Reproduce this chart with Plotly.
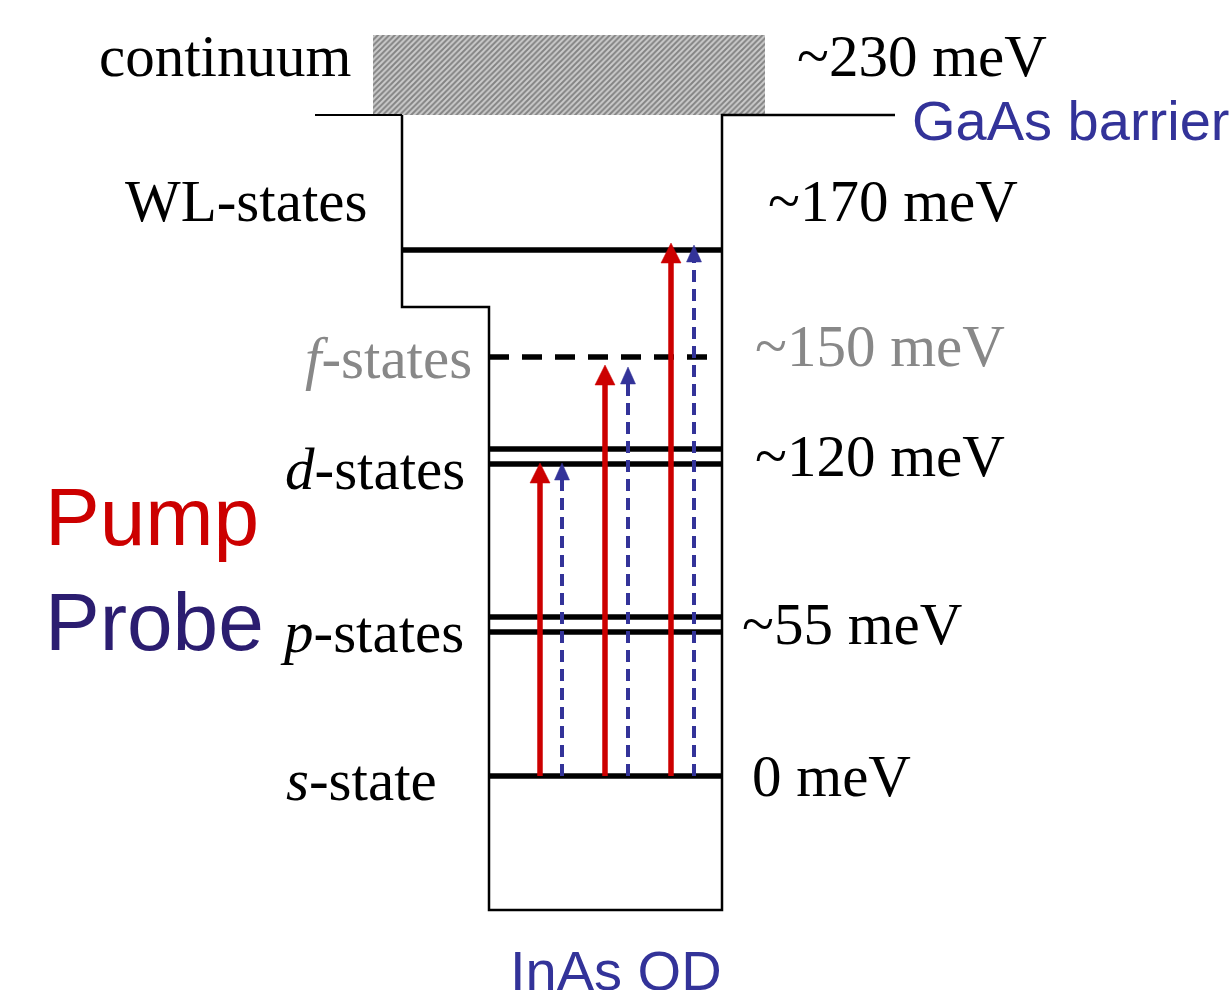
import plotly.graph_objects as go

# ---------------- data (schematic values) ----------------
state_labels = ["continuum", "WL-states", "<i>f</i>-states", "<i>d</i>-states",
                "<i>p</i>-states", "<i>s</i>-state"]
energy_labels = ["~230 meV", "~170 meV", "~150 meV", "~120 meV", "~55 meV", "0 meV"]
label_colors = ["black", "black", "#888888", "black", "black", "black"]
legend_labels = ["Pump", "Probe"]
legend_colors = ["#cc0000", "#2b1d70"]
barrier_label = "GaAs barrier"
dot_label = "InAs QD"

# ---------------- layout constants (diagram coordinates) ----------------
W, H = 1232, 990
serif = "Liberation Serif, Times New Roman, serif"
sans = "Liberation Sans, Arial, sans-serif"

# level lines: (x0, x1, y, dashed)
levels = [
    (402, 722, 250, False),   # WL
    (489, 712, 357, True),    # f
    (489, 722, 449, False),   # d
    (489, 722, 464, False),
    (489, 722, 617, False),   # p
    (489, 722, 632, False),
    (489, 722, 776, False),   # s
]
base_y = 776
pump_x = [540, 605, 671]
pump_tip = [463, 365, 243]
probe_x = [562, 628, 694]
probe_tip = [463, 367, 245]

state_pos = [(353, 56), (369, 201), (474, 358), (467, 469), (466, 632), (439, 780)]
energy_pos = [(795, 56), (766, 201), (753, 346), (753, 456), (740, 624), (750, 776)]

fig = go.Figure()

# continuum (hatched box)
bx0, bx1, by0, by1 = 373, 765, 35, 115
fig.add_trace(go.Scatter(
    x=[bx0, bx1, bx1, bx0, bx0], y=[by0, by0, by1, by1, by0],
    mode="lines", line=dict(width=0, color="rgba(0,0,0,0)"),
    fill="toself", fillcolor="#c4c4c4",
    fillpattern=dict(shape="/", size=4, solidity=0.5, fgcolor="#3a3a3a", bgcolor="#cccccc"),
    hoverinfo="skip"))

# barrier + well outline
fig.add_trace(go.Scatter(x=[315, 402], y=[115, 115], mode="lines",
                         line=dict(color="black", width=2), hoverinfo="skip"))
fig.add_trace(go.Scatter(
    x=[402, 402, 489, 489, 722, 722, 895],
    y=[115, 307, 307, 910, 910, 115, 115],
    mode="lines", line=dict(color="black", width=2.5), hoverinfo="skip"))

# energy levels
for x0, x1, y, dashed in levels:
    fig.add_trace(go.Scatter(
        x=[x0, x1], y=[y, y], mode="lines",
        line=dict(color="black", width=5.5, dash="20px,13px" if dashed else "solid"),
        hoverinfo="skip"))

# arrows
def arrow(x, tip, color, width, dash, hw, hh):
    fig.add_trace(go.Scatter(
        x=[x, x], y=[base_y, tip + hh - 1], mode="lines",
        line=dict(color=color, width=width, dash=dash), hoverinfo="skip"))
    fig.add_trace(go.Scatter(
        x=[x - hw / 2, x + hw / 2, x, x - hw / 2], y=[tip + hh, tip + hh, tip, tip + hh],
        mode="lines", fill="toself", fillcolor=color,
        line=dict(color=color, width=0.5), hoverinfo="skip"))

for x, t in zip(pump_x, pump_tip):
    arrow(x, t, "#cc0000", 5.5, "solid", 20, 20)
for x, t in zip(probe_x, probe_tip):
    arrow(x, t, "#333399", 4, "12px,7px", 15, 17)

ann = []
for (x, y), txt, c in zip(state_pos, state_labels, label_colors):
    ann.append(dict(x=x, y=y, text=txt, xanchor="right", yanchor="middle",
                    font=dict(family=serif, size=59, color=c)))
for (x, y), txt, c in zip(energy_pos, energy_labels, label_colors):
    ann.append(dict(x=x, y=y, text=txt, xanchor="left", yanchor="middle",
                    font=dict(family=serif, size=59, color=c)))
for (x, y), txt, c in zip([(43, 516), (43, 621)], legend_labels, legend_colors):
    ann.append(dict(x=x, y=y, text=txt, xanchor="left", yanchor="middle",
                    font=dict(family=sans, size=82, color=c)))
ann.append(dict(x=910, y=120, text=barrier_label, xanchor="left", yanchor="middle",
                font=dict(family=sans, size=56, color="#333399")))
ann.append(dict(x=508, y=970, text=dot_label, xanchor="left", yanchor="middle",
                font=dict(family=sans, size=56, color="#333399")))
for a in ann:
    a.update(showarrow=False, xref="x", yref="y")

fig.update_layout(
    width=W, height=H, autosize=False,
    margin=dict(l=0, r=0, t=0, b=0, pad=0),
    paper_bgcolor="white", plot_bgcolor="white",
    showlegend=False,
    xaxis=dict(range=[0, W], visible=False, fixedrange=True),
    yaxis=dict(range=[H, 0], visible=False, fixedrange=True),
    annotations=ann,
)

fig.write_html("out.html")
